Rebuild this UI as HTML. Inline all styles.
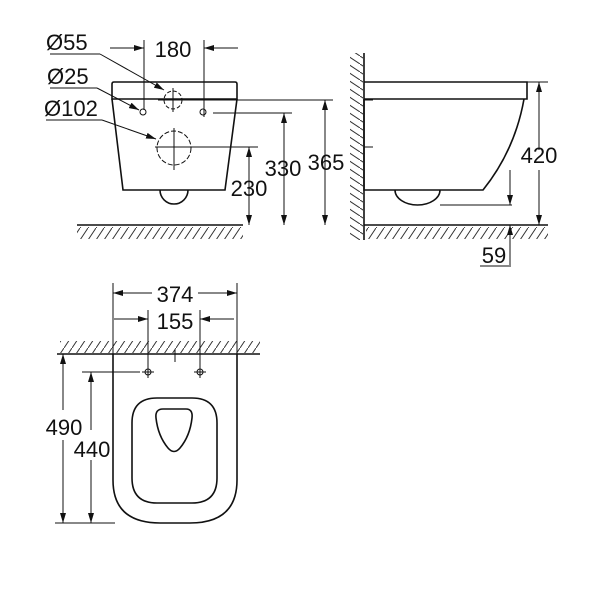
<!DOCTYPE html>
<html><head><meta charset="utf-8"><style>
html,body{margin:0;padding:0;background:#fff}
svg{display:block}
text{font-family:"Liberation Sans",sans-serif;font-size:22px;fill:#111}
</style></head><body>
<svg width="600" height="600" viewBox="0 0 600 600" xmlns="http://www.w3.org/2000/svg">
<defs>
<marker id="a" markerWidth="10" markerHeight="6" refX="10" refY="3" orient="auto" markerUnits="userSpaceOnUse">
<path d="M0,0 L10,3 L0,6 Z" fill="#111"/></marker>
<pattern id="h" width="8" height="12" patternUnits="userSpaceOnUse">
<line x1="0" y1="12" x2="8" y2="0" stroke="#333" stroke-width="1"/></pattern>
<pattern id="hv" width="12" height="8" patternUnits="userSpaceOnUse">
<line x1="0" y1="0" x2="12" y2="8" stroke="#333" stroke-width="1"/></pattern>
</defs>
<g fill="none" stroke="#111" stroke-width="1.6">
<path d="M112,99 L112,84 Q112,82 114,82 L235,82 Q237,82 237,84 L237,99 Z"/>
<path d="M112,99 L123,190 L225,190 L237,99"/>
<path d="M160,190 A14,14 0 0 0 188,190"/>
<line x1="77" y1="225" x2="243" y2="225"/>
<line x1="364" y1="53" x2="364" y2="240"/>
<path d="M364,82 L527,82 L527,99 L364,99"/>
<path d="M364,99 L364,190 L483,190 Q515,150 524,99"/>
<path d="M395,190 A22.5,15 0 0 0 440,190"/>
<line x1="364" y1="225" x2="548" y2="225"/>
<line x1="57" y1="354" x2="260" y2="354"/>
<path d="M113,354 L113,480 Q113,523 160,523 L190,523 Q237,523 237,480 L237,354"/>
<path d="M132,423 Q132,398 157,398 L192,398 Q217,398 217,423 L217,478 Q217,503 192,503 L157,503 Q132,503 132,478 Z"/>
<path d="M163,409 L186,409 Q193,409 192,418 Q190,436 180,448 Q174,455 168,448 Q158,436 156,418 Q155,409 163,409 Z"/>
</g>
<rect x="77" y="227" width="166" height="12" fill="url(#h)"/>
<rect x="366" y="227" width="182" height="12" fill="url(#h)"/>
<rect x="350" y="53" width="13" height="187" fill="url(#hv)"/>
<rect x="60" y="341" width="200" height="12" fill="url(#h)"/>
<g fill="none" stroke="#111" stroke-width="1">
<circle cx="173" cy="100" r="9" stroke-dasharray="4,2"/>
<circle cx="174" cy="148" r="17" stroke-dasharray="5,2"/>
<circle cx="143" cy="112" r="3"/><circle cx="203" cy="112" r="3"/>
<line x1="173" y1="88" x2="173" y2="112"/>
<line x1="174" y1="128" x2="174" y2="170"/>
<line x1="144" y1="40" x2="144" y2="110"/>
<line x1="204" y1="40" x2="204" y2="117"/>
<line x1="158" y1="100" x2="333" y2="100"/>
<line x1="213" y1="113" x2="292" y2="113"/>
<line x1="155" y1="147" x2="258" y2="147"/>
<polyline points="50,54 100,54"/><line x1="100" y1="54" x2="164" y2="90" marker-end="url(#a)"/>
<polyline points="50,88 97,88"/><line x1="97" y1="88" x2="139" y2="110" marker-end="url(#a)"/>
<polyline points="46,120 102,120"/><line x1="102" y1="120" x2="156" y2="139" marker-end="url(#a)"/>
<line x1="110" y1="48" x2="144" y2="48" marker-end="url(#a)"/>
<line x1="238" y1="48" x2="204" y2="48" marker-end="url(#a)"/>
<line x1="249" y1="186" x2="249" y2="147" marker-end="url(#a)"/><line x1="249" y1="186" x2="249" y2="225" marker-end="url(#a)"/>
<line x1="284" y1="170" x2="284" y2="113" marker-end="url(#a)"/><line x1="284" y1="170" x2="284" y2="225" marker-end="url(#a)"/>
<line x1="325" y1="165" x2="325" y2="100" marker-end="url(#a)"/><line x1="325" y1="165" x2="325" y2="225" marker-end="url(#a)"/>
<line x1="527" y1="82" x2="548" y2="82"/>
<line x1="539" y1="150" x2="539" y2="82" marker-end="url(#a)"/><line x1="539" y1="170" x2="539" y2="225" marker-end="url(#a)"/>
<line x1="440" y1="205" x2="512" y2="205"/>
<line x1="510" y1="170" x2="510" y2="205" marker-end="url(#a)"/>
<line x1="510" y1="265" x2="510" y2="225" marker-end="url(#a)"/>
<line x1="480" y1="266" x2="511" y2="266"/>
<line x1="364" y1="100" x2="373" y2="100"/><line x1="364" y1="147" x2="373" y2="147"/>
<line x1="113" y1="283" x2="113" y2="354"/><line x1="237" y1="283" x2="237" y2="354"/>
<line x1="152" y1="293" x2="113" y2="293" marker-end="url(#a)"/><line x1="198" y1="293" x2="237" y2="293" marker-end="url(#a)"/>
<line x1="148" y1="310" x2="148" y2="378"/><line x1="200" y1="310" x2="200" y2="378"/>
<line x1="114" y1="319" x2="148" y2="319" marker-end="url(#a)"/><line x1="234" y1="319" x2="200" y2="319" marker-end="url(#a)"/>
<line x1="175" y1="350" x2="175" y2="362"/>
<circle cx="148" cy="372" r="3"/><circle cx="200" cy="372" r="3"/>
<line x1="142" y1="372" x2="154" y2="372"/><line x1="194" y1="372" x2="206" y2="372"/>
<line x1="82" y1="372" x2="140" y2="372"/>
<line x1="55" y1="523" x2="115" y2="523"/>
<line x1="63" y1="410" x2="63" y2="354" marker-end="url(#a)"/><line x1="63" y1="440" x2="63" y2="523" marker-end="url(#a)"/>
<line x1="91" y1="430" x2="91" y2="372" marker-end="url(#a)"/><line x1="91" y1="460" x2="91" y2="523" marker-end="url(#a)"/>
</g>
<text x="46" y="50">Ø55</text>
<text x="47" y="84">Ø25</text>
<text x="44" y="116">Ø102</text>
<text x="173" y="57" text-anchor="middle">180</text>
<text x="249" y="196" text-anchor="middle">230</text>
<text x="283" y="176" text-anchor="middle">330</text>
<text x="326" y="170" text-anchor="middle">365</text>
<text x="539" y="163" text-anchor="middle">420</text>
<text x="494" y="263" text-anchor="middle">59</text>
<text x="175" y="302" text-anchor="middle">374</text>
<text x="175" y="329" text-anchor="middle">155</text>
<text x="64" y="435" text-anchor="middle">490</text>
<text x="92" y="457" text-anchor="middle">440</text>
</svg>
</body></html>
